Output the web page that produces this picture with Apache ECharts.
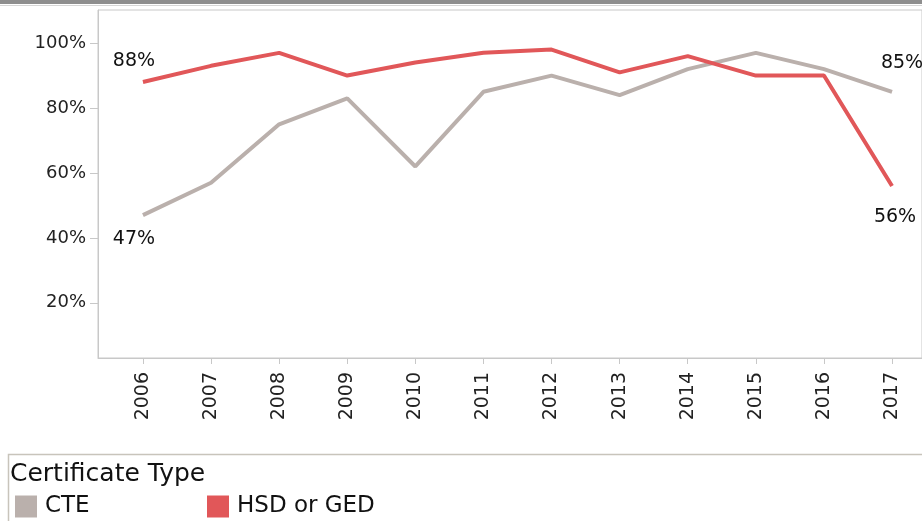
<!DOCTYPE html>
<html>
<head>
<meta charset="utf-8">
<script src="https://cdn.jsdelivr.net/npm/echarts@6/dist/echarts.min.js"></script>
<style>
  html, body { margin: 0; padding: 0; background: #fff; }
  #main { width: 922px; height: 521px; }
</style>
</head>
<body>
<div id="main"></div>
<script>
// years on the x axis
var years = [2006, 2007, 2008, 2009, 2010, 2011, 2012, 2013, 2014, 2015, 2016, 2017];
// share (%) per certificate type
var cteValues = [47, 57, 75, 83, 62, 85, 90, 84, 92, 97, 92, 85];
var hsdValues = [88, 93, 97, 90, 94, 97, 98, 91, 96, 90, 90, 56];
var yTicks = [20, 40, 60, 80, 100];
var seriesNames = ['CTE', 'HSD or GED'];

var chartDom = document.getElementById('main');
var myChart = echarts.init(chartDom);

var labelFont = { color: '#111', fontSize: 19, fontFamily: 'DejaVu Sans' };
var legendText = { color: '#111', fontSize: 23, fontFamily: 'DejaVu Sans', padding: [2, 0, 0, 3] };

// only the first and last point get a value label
function buildData(values, firstLabel, lastLabel) {
    return values.map(function (v, i) {
        var item = { value: [years[i], v] };
        if (i === 0) item.label = Object.assign({ show: true }, labelFont, firstLabel);
        if (i === values.length - 1) item.label = Object.assign({ show: true }, labelFont, lastLabel);
        return item;
    });
}

var option = {
    animation: false,
    title: {
        text: 'Certificate Type',
        left: 10,
        top: 462,
        padding: 0,
        textStyle: { color: '#111', fontSize: 25, fontWeight: 'normal', fontFamily: 'DejaVu Sans' }
    },
    legend: [
        {
            data: [seriesNames[0]],
            left: 15,
            top: 495,
            padding: 0,
            icon: 'rect',
            itemWidth: 22,
            itemHeight: 22,
            textStyle: legendText
        },
        {
            data: [seriesNames[1]],
            left: 207,
            top: 495,
            padding: 0,
            icon: 'rect',
            itemWidth: 22,
            itemHeight: 22,
            textStyle: legendText
        }
    ],
    graphic: [
        { type: 'rect', shape: { x: 0, y: 0, width: 922, height: 4 }, style: { fill: '#8e8e8e' }, silent: true },
        { type: 'rect', shape: { x: 0, y: 5, width: 922, height: 1 }, style: { fill: '#d6d6d6' }, silent: true },
        { type: 'rect', shape: { x: 8.5, y: 454.5, width: 930, height: 90 }, style: { fill: 'none', stroke: '#c8c4bb', lineWidth: 1.5 }, silent: true }
    ],
    grid: {
        left: 98,
        top: 10,
        right: -2,
        bottom: 163,
        show: true,
        borderColor: '#c8c8c8',
        borderWidth: 1
    },
    xAxis: {
        type: 'value',
        min: 2005.34,
        max: 2017.44,
        axisLine: { show: true, lineStyle: { color: '#c8c8c8' } },
        axisTick: { show: true, length: 6, customValues: years, lineStyle: { color: '#c8c8c8' } },
        axisLabel: {
            customValues: years,
            rotate: 90,
            margin: 14,
            color: '#222',
            fontSize: 19,
            fontFamily: 'DejaVu Sans',
            formatter: function (v) { return String(v); }
        },
        splitLine: { show: false }
    },
    yAxis: {
        type: 'value',
        min: 3,
        max: 110.2,
        axisLine: { show: true, lineStyle: { color: '#c8c8c8' } },
        axisTick: { show: true, length: 8, customValues: yTicks, lineStyle: { color: '#c8c8c8' } },
        axisLabel: {
            customValues: yTicks,
            margin: 12,
            color: '#222',
            fontSize: 18,
            fontFamily: 'DejaVu Sans',
            formatter: '{value}%'
        },
        splitLine: { show: false }
    },
    series: [
        {
            name: seriesNames[0],
            type: 'line',
            symbol: 'circle',
            symbolSize: 0.01,
            color: '#bab0ac',
            lineStyle: { width: 4, color: '#bab0ac' },
            label: { formatter: function (p) { return p.value[1] + '%'; } },
            data: buildData(cteValues,
                { position: 'bottom', distance: 14, offset: [-9, 0] },
                { position: 'top', distance: 19, offset: [10, 0] })
        },
        {
            name: seriesNames[1],
            type: 'line',
            symbol: 'circle',
            symbolSize: 0.01,
            color: '#e15759',
            lineStyle: { width: 4, color: '#e15759' },
            label: { formatter: function (p) { return p.value[1] + '%'; } },
            data: buildData(hsdValues,
                { position: 'top', distance: 11, offset: [-9, 0] },
                { position: 'bottom', distance: 22, offset: [3, 0] })
        }
    ]
};

option && myChart.setOption(option);
window.addEventListener('resize', function () {
    myChart.resize();
});
</script>
</body>
</html>
